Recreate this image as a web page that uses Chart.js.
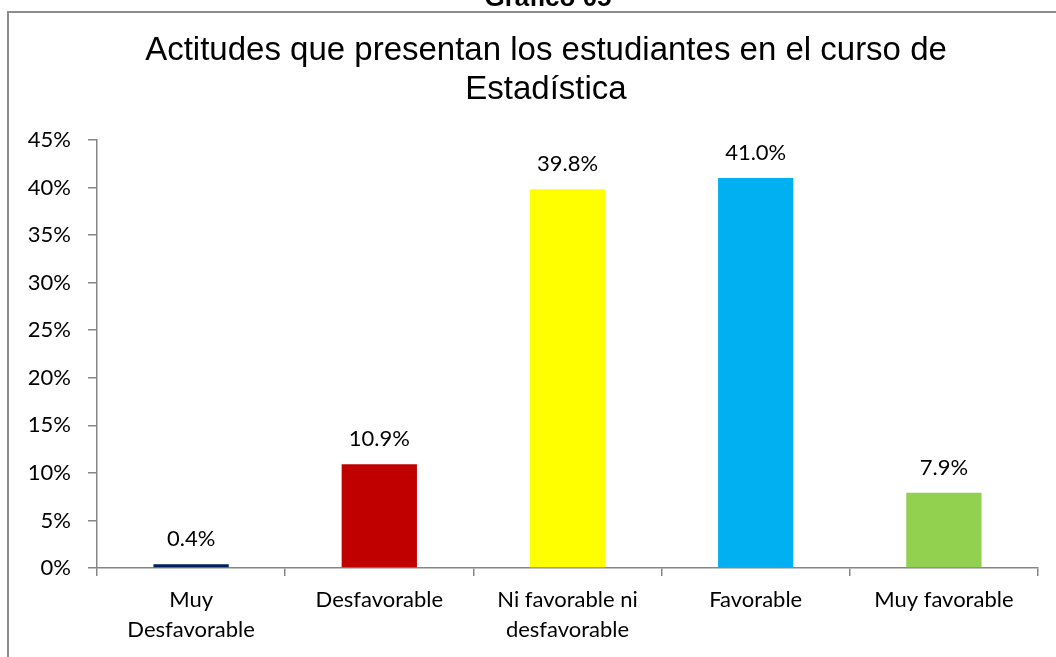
<!DOCTYPE html>
<html>
<head>
<meta charset="utf-8">
<script src="https://cdn.jsdelivr.net/npm/chart.js@4"></script>
<style>
  body { margin: 0; background: #fff; }
  #wrap { width: 1056px; height: 657px; }
</style>
</head>
<body>
<div id="wrap"><canvas id="myChart"></canvas></div>
<script>
var categories = [
  ["Muy", "Desfavorable"],
  "Desfavorable",
  ["Ni favorable ni", "desfavorable"],
  "Favorable",
  "Muy favorable",
];
var percentages = [0.4, 10.9, 39.8, 41.0, 7.9];
var barColors = ["#002060", "#C00000", "#FFFF00", "#00B0F0", "#92D050"];
var chartTitle = ["Actitudes que presentan los estudiantes en el curso de", "Estadística"];
var figureLabel = "Gráfico 05";
var yMax = 45;
var yStep = 5;

var axisGray = "#868686";
var labelFont = "Lato, 'Open Sans', sans-serif";

// frame around the chart and the figure caption above it
var framePlugin = {
  id: "frame",
  afterLayout: function (chart) {
    // centre the title on the framed box rather than the plot
    if (chart.titleBlock) {
      chart.titleBlock.left = 36;
      chart.titleBlock.right = 1056;
    }
  },
  beforeDraw: function (chart) {
    var ctx = chart.ctx;
    ctx.save();
    ctx.strokeStyle = "#8c8c8c";
    ctx.lineWidth = 2;
    ctx.beginPath();
    ctx.moveTo(1056, 12);
    ctx.lineTo(8, 12);
    ctx.lineTo(8, 657);
    ctx.stroke();
    ctx.fillStyle = "#000";
    ctx.font = "bold 26px 'Liberation Sans', Arial, sans-serif";
    ctx.textAlign = "center";
    ctx.textBaseline = "alphabetic";
    ctx.fillText(figureLabel, 548, 6);
    ctx.restore();
  },
};

// value labels above each bar
var valueLabels = {
  id: "valueLabels",
  afterDatasetsDraw: function (chart) {
    var ctx = chart.ctx;
    var meta = chart.getDatasetMeta(0);
    ctx.save();
    ctx.fillStyle = "#000";
    ctx.font = "22px " + labelFont;
    ctx.textAlign = "center";
    ctx.textBaseline = "alphabetic";
    meta.data.forEach(function (bar, i) {
      ctx.fillText(percentages[i].toFixed(1) + "%", bar.x, bar.y - 18);
    });
    ctx.restore();
  },
};

var ctx = document.getElementById("myChart").getContext("2d");
var myChart = new Chart(ctx, {
  type: "bar",
  data: {
    labels: categories,
    datasets: [
      {
        data: percentages,
        backgroundColor: barColors,
        borderWidth: 0,
        barPercentage: 0.8,
        categoryPercentage: 0.5,
      },
    ],
  },
  options: {
    responsive: true,
    maintainAspectRatio: false,
    animation: false,
    layout: {
      padding: { left: 10, right: 18, top: 0, bottom: 0 },
    },
    plugins: {
      legend: { display: false },
      tooltip: { enabled: false },
      title: {
        display: true,
        text: chartTitle,
        color: "#000",
        font: { family: "'Liberation Sans', Arial, sans-serif", size: 33, weight: "normal", lineHeight: 1.18 },
        padding: { top: 31, bottom: 31 },
      },
    },
    scales: {
      x: {
        grid: {
          display: true,
          drawOnChartArea: false,
          drawTicks: true,
          tickLength: 8,
          color: axisGray,
          lineWidth: 1.5,
        },
        border: { color: axisGray, width: 1.5 },
        ticks: {
          color: "#000",
          padding: 9,
          maxRotation: 0,
          autoSkip: false,
          font: { family: labelFont, size: 22, lineHeight: 1.36 },
        },
        afterFit: function (scale) {
          scale.height = 89;
        },
      },
      y: {
        min: 0,
        max: yMax,
        grid: {
          display: true,
          drawOnChartArea: false,
          drawTicks: true,
          tickLength: 9,
          color: axisGray,
          lineWidth: 1.5,
        },
        border: { color: axisGray, width: 1.5 },
        ticks: {
          stepSize: yStep,
          color: "#000",
          padding: 17,
          font: { family: labelFont, size: 22 },
          callback: function (v) {
            return v + "%";
          },
        },
        afterFit: function (scale) {
          scale.width = 87;
        },
      },
    },
  },
  plugins: [framePlugin, valueLabels],
});
</script>
</body>
</html>
